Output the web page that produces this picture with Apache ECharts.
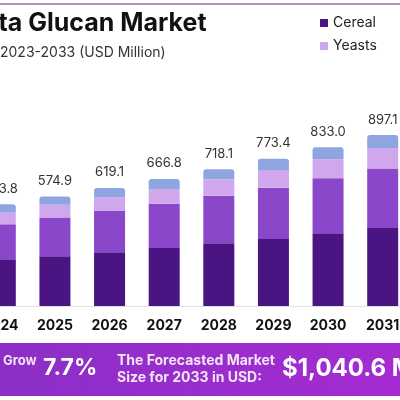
<!DOCTYPE html>
<html>
<head>
<meta charset="utf-8">
<script src="https://cdn.jsdelivr.net/npm/echarts@6/dist/echarts.min.js"></script>
<style>
  html, body { margin: 0; padding: 0; background: #fff; overflow: hidden; }
  body { width: 400px; height: 400px; position: relative; }
  /* the reference is a crop of a wider chart, so the canvas starts 27px off-screen */
  #main { position: absolute; left: -27px; top: 0; width: 437px; height: 400px; }
</style>
</head>
<body>
<div id="main"></div>
<script>
// data (USD million)
const years = ['2024', '2025', '2026', '2027', '2028', '2029', '2030', '2031'];
const cereal = [245, 261, 282, 304, 329, 352, 382, 409];
const mushroom = [184, 203, 217, 233, 250, 269, 289, 313];
const yeasts = [61, 68, 72, 77, 86, 93, 100, 107];
const others = [43.8, 42.9, 48.1, 52.8, 53.1, 59.4, 62.0, 68.1];
const totals = [533.8, 574.9, 619.1, 666.8, 718.1, 773.4, 833.0, 897.1];

const font = 'Inter, "Noto Sans", sans-serif';
const dx = 27; // screen x -> canvas x

const chart = echarts.init(document.getElementById('main'));

const option = {
  animation: false,
  backgroundColor: '#fff',
  grid: { left: 0, right: 0, top: 115.5, bottom: 94 },
  legend: {
    data: ['Cereal', 'Yeasts'],
    orient: 'vertical',
    left: 315 + dx,
    top: 11,
    itemWidth: 8,
    itemHeight: 8,
    itemGap: 9,
    icon: 'rect',
    textStyle: { fontFamily: font, fontSize: 14, color: '#222' }
  },
  xAxis: {
    type: 'category',
    data: years,
    axisLine: { lineStyle: { color: '#e2e2e2' } },
    axisTick: { show: false },
    axisLabel: { fontFamily: font, fontWeight: 'bold', fontSize: 14, color: '#111', margin: 13 }
  },
  yAxis: { type: 'value', min: 0, max: 1000, show: false, splitLine: { show: false } },
  series: [
    { name: 'Cereal', type: 'bar', stack: 'm', barWidth: 31, data: cereal, itemStyle: { color: '#4a1582' } },
    { name: 'Mushroom', type: 'bar', stack: 'm', data: mushroom, itemStyle: { color: '#8a47c9' } },
    { name: 'Yeasts', type: 'bar', stack: 'm', data: yeasts, itemStyle: { color: '#d0a6ec' } },
    {
      name: 'Others', type: 'bar', stack: 'm', data: others,
      itemStyle: { color: '#8ea6df', borderRadius: [3, 3, 0, 0] },
      label: {
        show: true, position: 'top', distance: 9,
        fontFamily: font, fontSize: 13, color: '#333',
        formatter: p => totals[p.dataIndex].toFixed(1)
      }
    }
  ],
  graphic: [
    { type: 'rect', shape: { x: 0, y: 3, width: 437, height: 2 }, style: { fill: '#b58cc8' } },
    {
      type: 'text', left: dx - 33, top: 11,
      style: { text: 'Beta Glucan Market', font: 'bold 25px ' + font, fill: '#111' }
    },
    {
      type: 'text', left: dx, top: 46,
      style: { text: '2023-2033 (USD Million)', font: '14px ' + font, fill: '#333' }
    },
    {
      type: 'rect', shape: { x: 0, y: 343, width: 437, height: 53 },
      style: {
        fill: new echarts.graphic.LinearGradient(0, 0, 1, 0, [
          { offset: 0, color: '#8a2fc6' },
          { offset: 1, color: '#a52bd2' }
        ])
      }
    },
    { type: 'text', left: dx + 3, top: 355, style: { text: 'Grow', font: 'bold 13px ' + font, fill: '#f4e4f7' } },
    { type: 'text', left: dx + 43, top: 357, style: { text: '7.7%', font: 'bold 23px ' + font, fill: '#fff' } },
    {
      type: 'text', left: dx + 117, top: 352,
      style: { text: 'The Forecasted Market\nSize for 2033 in USD:', font: 'bold 14px ' + font, lineHeight: 17, fill: '#f4e4f7' }
    },
    { type: 'text', left: dx + 282, top: 357, style: { text: '$1,040.6 M', font: 'bold 24px ' + font, fill: '#fff' } }
  ]
};

chart.setOption(option);
</script>
</body>
</html>
